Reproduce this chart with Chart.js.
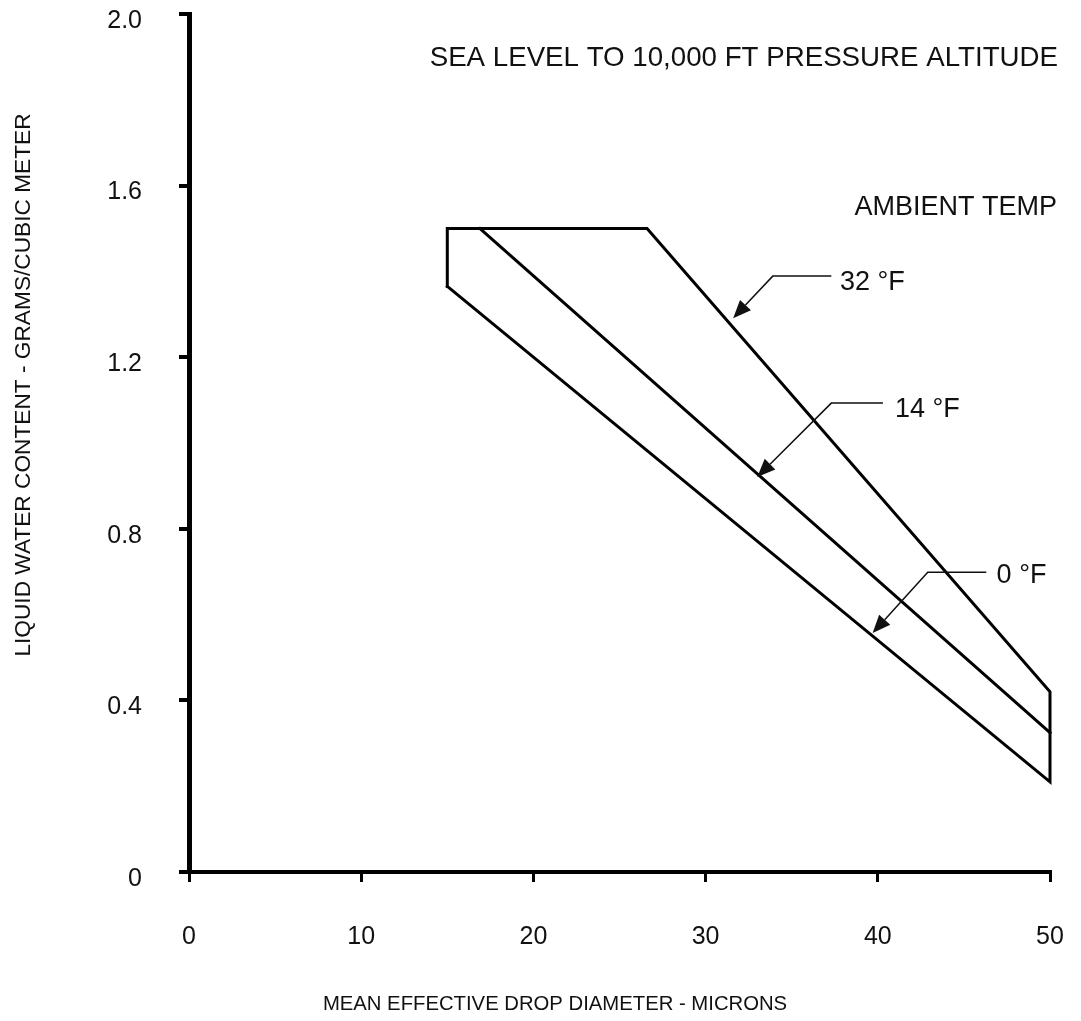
<!DOCTYPE html>
<html><head><meta charset="utf-8">
<script src="https://cdn.jsdelivr.net/npm/chart.js@4.4.1/dist/chart.umd.min.js"></script>
<style>html,body{margin:0;padding:0;background:#fff;} #wrap{width:1081px;height:1021px;position:relative;}</style>
</head><body><div id="wrap"><canvas id="c" width="1081" height="1021"></canvas></div>
<script>
// ---- data (microns vs g/m^3) ----
const curve32X = [26.6, 50];
const curve32Y = [1.5, 0.42];
const curve14X = [16.9, 50];
const curve14Y = [1.5, 0.325];
const curve0X = [15, 50];
const curve0Y = [1.365, 0.21];
const topLimit = 1.5;
const yTickLabels = {0:'0', 0.4:'0.4', 0.8:'0.8', 1.2:'1.2', 1.6:'1.6', 2:'2.0'};
const curveLabels = ['32 °F', '14 °F', '0 °F'];
const labelAnchorX = [37.8, 41.0, 46.9];
const labelAnchorY = [1.375, 1.079, 0.690];
const leaderStartX = [37.3, 40.3, 46.3];
const leaderBendX = [33.9, 37.3, 42.9];
const leaderY = [1.389, 1.093, 0.699];
const arrowTipX = [31.6, 33.0, 39.7];
const arrowTipY = [1.291, 0.921, 0.557];
const titleText = 'SEA LEVEL TO 10,000 FT PRESSURE ALTITUDE';
const subText = 'AMBIENT TEMP';
const xTitle = 'MEAN EFFECTIVE DROP DIAMETER - MICRONS';
const yTitle = 'LIQUID WATER CONTENT - GRAMS/CUBIC METER';

const FONT = '"Liberation Sans", Arial, sans-serif';
const toPts = (xs, ys) => xs.map((v, i) => ({x: v, y: ys[i]}));

// envelope polygon: left edge, top limit, 32F curve, 0F curve back
const envelope = [
  {x: curve0X[0], y: curve0Y[0]},
  {x: curve0X[0], y: topLimit},
  ...toPts(curve32X, curve32Y),
  ...toPts(curve0X, curve0Y).reverse()
];

const annot = {
  id: 'annot',
  afterDatasetsDraw(chart) {
    const {ctx, scales: {x, y}} = chart;
    ctx.save();
    ctx.strokeStyle = '#111'; ctx.fillStyle = '#111';
    for (let i = 0; i < curveLabels.length; i++) {
      const sx = x.getPixelForValue(leaderStartX[i]);
      const bx = x.getPixelForValue(leaderBendX[i]);
      const ly = y.getPixelForValue(leaderY[i]);
      const tx = x.getPixelForValue(arrowTipX[i]);
      const ty = y.getPixelForValue(arrowTipY[i]);
      const ang = Math.atan2(ty - ly, tx - bx);
      const L = 18, W = 7.5;
      const baseX = tx - L * Math.cos(ang), baseY = ty - L * Math.sin(ang);
      ctx.lineWidth = 1.5;
      ctx.beginPath(); ctx.moveTo(sx, ly); ctx.lineTo(bx, ly); ctx.lineTo(baseX, baseY); ctx.stroke();
      ctx.beginPath(); ctx.moveTo(tx, ty);
      ctx.lineTo(baseX + W * Math.sin(ang), baseY - W * Math.cos(ang));
      ctx.lineTo(baseX - W * Math.sin(ang), baseY + W * Math.cos(ang));
      ctx.closePath(); ctx.fill();
      ctx.font = '27px ' + FONT;
      ctx.textAlign = 'left'; ctx.textBaseline = 'middle';
      ctx.fillText(curveLabels[i], x.getPixelForValue(labelAnchorX[i]), y.getPixelForValue(labelAnchorY[i]));
    }
    ctx.font = '27.7px ' + FONT;
    ctx.textAlign = 'right'; ctx.textBaseline = 'middle';
    ctx.fillText(titleText, 1058, 58);
    ctx.font = '27px ' + FONT;
    ctx.fillText(subText, 1057, 208);
    ctx.textAlign = 'center';
    ctx.font = '20.3px ' + FONT;
    ctx.fillText(xTitle, 555, 1004);
    ctx.save();
    ctx.translate(24, 385); ctx.rotate(-Math.PI / 2);
    ctx.font = '22.7px ' + FONT;
    ctx.fillText(yTitle, 0, 0);
    ctx.restore();
    ctx.restore();
  }
};

const lineDs = (label, data) => ({
  label, data, showLine: true, pointRadius: 0, borderColor: '#000', borderWidth: 3,
  fill: false, tension: 0, clip: false, borderJoinStyle: 'miter', borderCapStyle: 'square'
});

new Chart(document.getElementById('c'), {
  type: 'scatter',
  data: {
    datasets: [
      lineDs('Envelope (32 °F / 0 °F)', envelope),
      lineDs('14 °F', toPts(curve14X, curve14Y))
    ]
  },
  options: {
    responsive: false, animation: false, devicePixelRatio: 1,
    layout: {padding: {left: 0, right: 31, top: 14, bottom: 0}},
    plugins: {legend: {display: false}, tooltip: {enabled: false}},
    scales: {
      x: {
        type: 'linear', min: 0, max: 50,
        afterFit: s => { s.height = 1021 - 872; s.paddingLeft = 0; s.paddingRight = 0; },
        ticks: {stepSize: 10, color: '#111', font: {family: FONT, size: 25}, padding: 40, maxRotation: 0},
        grid: {drawOnChartArea: false, drawTicks: true, tickLength: 10, lineWidth: 3, color: '#000', tickColor: '#000'},
        border: {display: true, width: 4, color: '#000'}
      },
      y: {
        type: 'linear', min: 0, max: 2,
        afterFit: s => { s.width = 189; s.paddingTop = 0; s.paddingBottom = 0; },
        ticks: {stepSize: 0.4, color: '#111', font: {family: FONT, size: 25}, padding: 37, labelOffset: 7,
          callback: v => { const k = Math.round(v * 10) / 10; return yTickLabels[k] ?? String(k); }},
        grid: {drawOnChartArea: false, drawTicks: true, tickLength: 10, lineWidth: 4, color: '#000', tickColor: '#000'},
        border: {display: true, width: 5, color: '#000'}
      }
    }
  },
  plugins: [annot]
});
</script></body></html>
